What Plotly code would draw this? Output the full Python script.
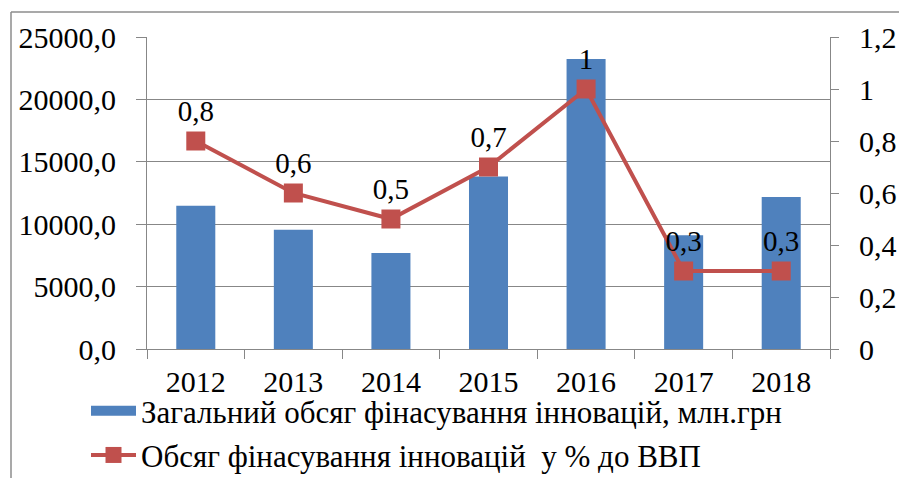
import plotly.graph_objects as go

years = ["2012", "2013", "2014", "2015", "2016", "2017", "2018"]
funding = [11480.6, 9562.6, 7695.9, 13813.7, 23229.5, 9117.5, 12180.1]
share_gdp = [0.8, 0.6, 0.5, 0.7, 1.0, 0.3, 0.3]
left_ticks = [0, 5000, 10000, 15000, 20000, 25000]
right_ticks = [0, 0.2, 0.4, 0.6, 0.8, 1.0, 1.2]

bar_name = "Загальний обсяг фінасування інновацій, млн.грн"
line_name = "Обсяг фінасування інновацій  у % до ВВП"

FONT = "'Liberation Serif', 'Times New Roman', 'DejaVu Serif', serif"
GRID = "#878787"
BLUE = "#4F81BD"
RED = "#C0504D"

def fmt(v):
    return f"{v:g}".replace(".", ",")

fig = go.Figure()
fig.add_trace(go.Bar(
    x=years, y=funding, name=bar_name, showlegend=False,
    marker=dict(color=BLUE, line=dict(width=0)),
    yaxis="y",
))
# legend entry for the bars (wide swatch)
fig.add_trace(go.Scatter(
    x=[None], y=[None], name=bar_name, mode="lines",
    line=dict(color=BLUE, width=16), legendgroup="a", yaxis="y",
))
fig.add_trace(go.Scatter(
    x=years, y=share_gdp, name=line_name, yaxis="y2", legendgroup="b",
    mode="lines+markers+text",
    line=dict(color=RED, width=4),
    marker=dict(symbol="square", size=19, color=RED),
    text=[fmt(v) for v in share_gdp],
    textposition="top center",
    textfont=dict(family=FONT, size=29, color="black"),
    cliponaxis=False,
))

W, H = 899, 478
L, R, T, B = 147, 69, 37, 129
pw, ph = W - L - R, H - T - B
bx = (11 - L) / pw
by = 1 + (T - 12) / ph

fig.update_layout(
    width=W, height=H,
    margin=dict(l=L, r=R, t=T, b=B, pad=0, autoexpand=False),
    paper_bgcolor="white", plot_bgcolor="white",
    font=dict(family=FONT, size=30, color="black"),
    bargap=0.6,
    showlegend=True,
    legend=dict(
        orientation="v", x=(86 - L) / pw, xanchor="left",
        y=(349 - 384) / ph, yanchor="top",
        font=dict(family=FONT, size=31, color="black"),
        bgcolor="rgba(0,0,0,0)", tracegroupgap=1, itemwidth=45,
        traceorder="grouped",
    ),
    xaxis=dict(
        type="category", showgrid=False, showline=True, linecolor=GRID, linewidth=1,
        ticks="outside", tickson="boundaries", ticklen=9, tickcolor=GRID,
        ticklabelstandoff=6,
        tickfont=dict(family=FONT, size=30, color="black"),
    ),
    yaxis=dict(
        range=[0, 25000], tickvals=left_ticks,
        ticktext=[f"{v:.1f}".replace(".", ",") for v in left_ticks],
        showgrid=True, gridcolor=GRID, gridwidth=1,
        showline=True, linecolor=GRID, linewidth=1,
        ticks="outside", ticklen=10, tickcolor=GRID, zeroline=False,
        ticklabelstandoff=14,
        tickfont=dict(family=FONT, size=30, color="black"),
    ),
    yaxis2=dict(
        range=[0, 1.2], tickvals=right_ticks,
        ticktext=[fmt(v) for v in right_ticks],
        overlaying="y", side="right", showgrid=False,
        showline=True, linecolor=GRID, linewidth=1,
        ticks="outside", ticklen=8, tickcolor=GRID, zeroline=False,
        ticklabelstandoff=14,
        tickfont=dict(family=FONT, size=30, color="black"),
    ),
    shapes=[
        dict(type="line", xref="paper", yref="paper", x0=bx, x1=1.2, y0=by, y1=by,
             line=dict(color="#8c8c8c", width=1.5)),
        dict(type="line", xref="paper", yref="paper", x0=bx, x1=bx, y0=by, y1=-0.6,
             line=dict(color="#8c8c8c", width=1.5)),
    ],
)

fig.write_html("out.html", config={"displayModeBar": False},
               post_script="document.body.style.margin='0';")
